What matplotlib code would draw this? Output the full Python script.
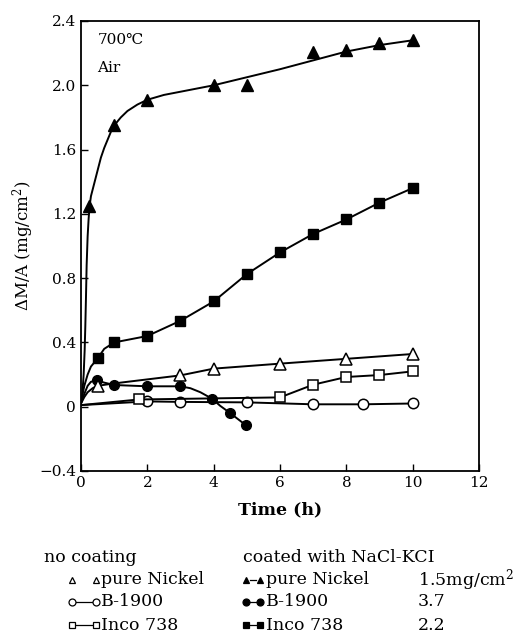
import matplotlib.pyplot as plt
from matplotlib.lines import Line2D

# marker readings (time in h, mass gain in mg/cm2)
ni_coat_t = [0.25, 1.0, 2.0, 4.0, 5.0, 7.0, 8.0, 9.0, 10.0]
ni_coat_y = [1.25, 1.75, 1.91, 2.00, 2.00, 2.21, 2.22, 2.26, 2.28]
# drawn fit curve for coated nickel
ni_coat_fit_t = [0, 0.04, 0.08, 0.11, 0.13, 0.15, 0.17, 0.2, 0.23, 0.26, 0.3, 0.4, 0.5, 0.6,
                 0.7, 0.8, 0.9, 1.0, 1.2, 1.4, 1.7, 2.0, 2.5, 3.0, 4.0, 5.0, 6.0, 7.0, 8.0,
                 9.0, 10.0]
ni_coat_fit_y = [0.02, 0.08, 0.2, 0.35, 0.5, 0.68, 0.88, 1.06, 1.17, 1.25, 1.31, 1.39, 1.47, 1.55,
                 1.61, 1.66, 1.71, 1.75, 1.80, 1.84, 1.88, 1.91, 1.94, 1.96, 2.00, 2.05, 2.10,
                 2.155, 2.21, 2.25, 2.28]

inco_coat_t = [0.5, 1.0, 2.0, 3.0, 4.0, 5.0, 6.0, 7.0, 8.0, 9.0, 10.0]
inco_coat_y = [0.30, 0.40, 0.44, 0.535, 0.655, 0.825, 0.96, 1.075, 1.165, 1.27, 1.36]
inco_coat_line_t = [0, 0.05, 0.1, 0.2, 0.3, 0.5, 0.7, 1.0, 2.0, 3.0, 4.0, 5.0, 6.0, 7.0, 8.0,
                    9.0, 10.0]
inco_coat_line_y = [0.02, 0.08, 0.13, 0.2, 0.25, 0.30, 0.36, 0.40, 0.44, 0.535, 0.655, 0.825,
                    0.96, 1.075, 1.165, 1.27, 1.36]

b19_coat_t = [0.47, 1.0, 2.0, 3.0, 3.95, 4.5, 4.97]
b19_coat_y = [0.165, 0.135, 0.127, 0.127, 0.05, -0.04, -0.115]
b19_coat_line_t = [0, 0.1, 0.2, 0.3, 0.47, 0.7, 1.0, 2.0, 3.0, 3.3, 3.6, 3.95, 4.2, 4.5, 4.97]
b19_coat_line_y = [0.02, 0.08, 0.13, 0.155, 0.165, 0.15, 0.135, 0.127, 0.127, 0.115, 0.09,
                   0.05, 0.005, -0.04, -0.115]

ni_t = [0.5, 3.0, 4.0, 6.0, 8.0, 10.0]
ni_y = [0.13, 0.195, 0.237, 0.268, 0.298, 0.328]
ni_line_t = [0, 0.1, 0.2, 0.35, 0.5, 1.0, 2.0, 3.0, 4.0, 6.0, 8.0, 10.0]
ni_line_y = [0.02, 0.06, 0.09, 0.115, 0.13, 0.145, 0.17, 0.195, 0.237, 0.268, 0.298, 0.328]

b19_t = [2.0, 3.0, 5.0, 7.0, 8.5, 10.0]
b19_y = [0.033, 0.03, 0.027, 0.015, 0.015, 0.02]
b19_line_t = [0] + b19_t
b19_line_y = [0.01] + b19_y

inco_t = [1.74, 6.0, 7.0, 8.0, 9.0, 10.0]
inco_y = [0.045, 0.058, 0.137, 0.185, 0.197, 0.22]
inco_line_t = [0] + inco_t
inco_line_y = [0.01] + inco_y

x_ticks = [0, 2, 4, 6, 8, 10, 12]
y_ticks = [-0.4, 0, 0.4, 0.8, 1.2, 1.6, 2.0, 2.4]
y_tick_labels = ['\u22120.4', '0', '0.4', '0.8', '1.2', '1.6', '2.0', '2.4']

legend_left = ['pure Nickel', 'B-1900', 'Inco 738']
legend_right = ['pure Nickel', 'B-1900', 'Inco 738']
legend_amounts = [r'1.5mg/cm$^2$', '3.7', '2.2']

plt.rcParams['font.family'] = ['DejaVu Serif', 'DejaVu Sans']
plt.rcParams['mathtext.fontset'] = 'dejavuserif'

W, H = 513, 637
fig = plt.figure(figsize=(W / 100, H / 100), dpi=100)
ax = fig.add_axes([81 / W, 1 - 471 / H, 398 / W, 450 / H])

lw = 1.4
k = 'black'
ax.plot(ni_coat_fit_t, ni_coat_fit_y, color=k, lw=lw)
ax.plot(ni_coat_t, ni_coat_y, '^', color=k, ms=8, ls='none')

ax.plot(inco_coat_line_t, inco_coat_line_y, color=k, lw=lw)
ax.plot(inco_coat_t, inco_coat_y, 's', color=k, ms=6.5, ls='none')

ax.plot(b19_coat_line_t, b19_coat_line_y, color=k, lw=lw)
ax.plot(b19_coat_t, b19_coat_y, 'o', color=k, ms=7, ls='none')

ax.plot(ni_line_t, ni_line_y, color=k, lw=lw)
ax.plot(ni_t, ni_y, '^', mfc='white', mec=k, mew=1.1, ms=8, ls='none')

ax.plot(b19_line_t, b19_line_y, color=k, lw=lw)
ax.plot(b19_t, b19_y, 'o', mfc='white', mec=k, mew=1.1, ms=7.5, ls='none')

ax.plot(inco_line_t, inco_line_y, color=k, lw=lw)
ax.plot(inco_t, inco_y, 's', mfc='white', mec=k, mew=1.1, ms=7, ls='none')

ax.set_xlim(0, 12)
ax.set_ylim(-0.4, 2.4)
ax.set_xticks(x_ticks)
ax.set_yticks(y_ticks)
ax.set_yticklabels(y_tick_labels)
ax.tick_params(direction='in', length=5, width=1, labelsize=11, top=False, right=False)
for s in ax.spines.values():
    s.set_linewidth(1.3)

ax.text(0.5, 2.28, '700\u2103', fontsize=11, va='center')
ax.text(0.5, 2.11, 'Air', fontsize=11, va='center')

ax.set_xlabel('Time (h)', fontsize=12.5, fontweight='bold', labelpad=8)
ax.set_ylabel(r'$\Delta$M/A (mg/cm$^2$)', fontsize=12, labelpad=2)


def ftext(x, y, s, size=12.5):
    fig.text(x / W, 1 - y / H, s, va='center', ha='left', fontsize=size)


def fkey(x1, x2, y, marker, filled, dash=True, ms=5):
    yy = 1 - y / H
    if dash:
        fig.lines.append(Line2D([(x1 + 4) / W, (x2 - 4) / W], [yy, yy], color=k, lw=0.9,
                                transform=fig.transFigure))
    fig.lines.append(Line2D([x1 / W, x2 / W], [yy, yy], ls='none', marker=marker, ms=ms,
                            mfc=k if filled else 'white', mec=k, mew=0.9,
                            transform=fig.transFigure))


ftext(44, 557, 'no coating')
ftext(243, 557, 'coated with NaCl-KCI')

rows = [580, 602, 625]
markers = ['^', 'o', 's']
for i, y in enumerate(rows):
    fkey(72, 96, y, markers[i], False, dash=(i > 0))
    ftext(101, y, legend_left[i])
    fkey(246, 260, y, markers[i], True)
    ftext(266, y, legend_right[i])
    ftext(418, y, legend_amounts[i])

fig.savefig('out.png', dpi=100)
